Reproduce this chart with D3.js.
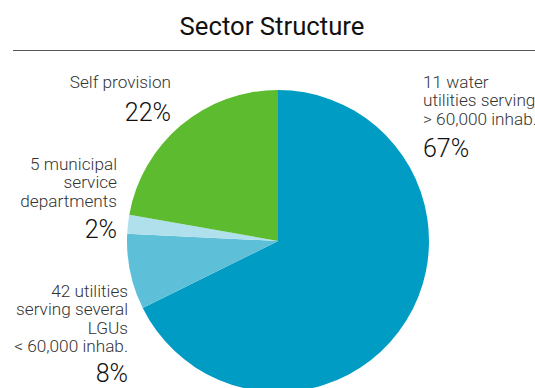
<!DOCTYPE html>
<html>
<head>
<meta charset="utf-8">
<script src="https://cdn.jsdelivr.net/npm/d3@7"></script>
<style>
  html, body { margin: 0; padding: 0; background: #fff; }
  svg { display: block; font-family: Roboto, "Noto Sans", sans-serif; }
</style>
</head>
<body>
<svg id="chart" width="535" height="388"></svg>
<script>
// Sector shares, clockwise from twelve o'clock
const categories = [
  "11 water utilities serving > 60,000 inhab.",
  "42 utilities serving several LGUs < 60,000 inhab.",
  "5 municipal service departments",
  "Self provision"
];
const shares = [67, 8, 2, 22];
const labelLines = [
  ["11 water", "utilities serving", "> 60,000 inhab."],
  ["42 utilities", "serving several", "LGUs", "< 60,000 inhab."],
  ["5 municipal", "service", "departments"],
  ["Self provision"]
];
const sliceColors = ["#009cc4", "#5ebfd9", "#b0e0ec", "#5cbb2e"];

// Label placement: anchor point, text alignment
const labelLayout = [
  { x: 423, y: 88,  anchor: "start", pctY: 157 },
  { x: 128, y: 297, anchor: "end",   pctY: 382 },
  { x: 117, y: 170, anchor: "end",   pctY: 238 },
  { x: 171, y: 88,  anchor: "end",   pctY: 121 }
];

const svg = d3.select("#chart");
const cx = 278, cy = 241, radius = 151;

svg.append("text")
  .attr("x", 272).attr("y", 35)
  .attr("text-anchor", "middle")
  .attr("font-size", 25.7)
  .attr("font-weight", 400)
  .attr("fill", "#111")
  .text("Sector Structure");

svg.append("line")
  .attr("x1", 13).attr("x2", 535)
  .attr("y1", 50.5).attr("y2", 50.5)
  .attr("stroke", "#555").attr("stroke-width", 1);

const data = categories.map((c, i) => ({ name: c, value: shares[i], i }));
const pie = d3.pie().value(d => d.value).sort(null);
const arc = d3.arc().innerRadius(0).outerRadius(radius);

const g = svg.append("g").attr("transform", `translate(${cx},${cy})`);
g.selectAll("path")
  .data(pie(data))
  .join("path")
  .attr("d", arc)
  .attr("fill", d => sliceColors[d.data.i]);

const lineH = 18.3;
const labels = svg.append("g");
data.forEach((d, i) => {
  const L = labelLayout[i];
  const t = labels.append("text")
    .attr("text-anchor", L.anchor)
    .attr("font-size", 17.2)
    .attr("font-weight", 300)
    .attr("fill", "#333");
  labelLines[i].forEach((ln, k) => {
    t.append("tspan").attr("x", L.x).attr("y", L.y + k * lineH).text(ln);
  });
  labels.append("text")
    .attr("x", L.x).attr("y", L.pctY)
    .attr("text-anchor", L.anchor)
    .attr("font-size", 25)
    .attr("font-weight", 300)
    .attr("fill", "#111")
    .text(d.value + "%");
});
</script>
</body>
</html>
